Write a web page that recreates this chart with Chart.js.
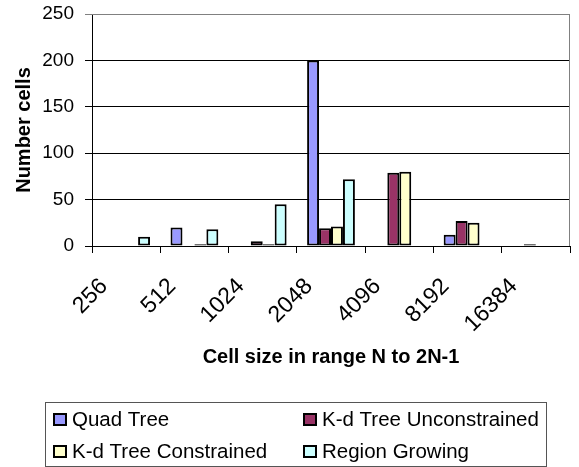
<!DOCTYPE html>
<html>
<head>
<meta charset="utf-8">
<script src="https://cdn.jsdelivr.net/npm/chart.js@4/dist/chart.umd.min.js"></script>
<style>
  body { margin: 0; background: #fff; }
  #wrap { width: 579px; height: 467px; position: relative; }
</style>
</head>
<body>
<div id="wrap"><canvas id="chart"></canvas></div>
<script>
const categories = ['256', '512', '1024', '2048', '4096', '8192', '16384'];
const quadTree = [0, 20, 0, 200, 0, 12, 0];
const kdUnconstrained = [0, 0, 5, 19, 79, 27, 2];
const kdConstrained = [0, 2, 2, 21, 80, 25, 0];
const regionGrowing = [10, 18, 45, 72, 0, 0, 0];
const yMin = 0, yMax = 250, yStep = 50;

const FONT = '"Liberation Sans", Arial, sans-serif';

function series(label, data, color) {
    return {
        label: label,
        data: data,
        backgroundColor: color,
        borderColor: '#000',
        borderWidth: 2,
        borderSkipped: false,
        categoryPercentage: 0.7,
        barPercentage: 1
    };
}

// legend drawn as a boxed 2x2 grid like the original
const boxLegend = {
    id: 'boxLegend',
    afterDraw(chart) {
        const ctx = chart.ctx;
        ctx.save();
        ctx.strokeStyle = '#555';
        ctx.lineWidth = 1;
        ctx.strokeRect(45.5, 402.5, 501, 64);
        const spots = [[53, 413], [303, 413], [53, 445], [303, 445]];
        ctx.font = '20.5px ' + FONT;
        ctx.textBaseline = 'middle';
        ctx.textAlign = 'left';
        chart.data.datasets.forEach((ds, i) => {
            const [x, y] = spots[i];
            ctx.fillStyle = ds.backgroundColor;
            ctx.fillRect(x, y, 14, 13);
            ctx.strokeStyle = '#000';
            ctx.lineWidth = 2;
            ctx.strokeRect(x + 1, y + 1, 12, 11);
            ctx.fillStyle = '#000';
            ctx.fillText(ds.label, x + 19, y + 7);
        });
        ctx.restore();
    }
};

// gray frame on the top and right of the plot area
const plotFrame = {
    id: 'plotFrame',
    afterDatasetsDraw(chart) {
        const a = chart.chartArea, ctx = chart.ctx;
        ctx.save();
        ctx.strokeStyle = '#808080';
        ctx.lineWidth = 1;
        ctx.beginPath();
        ctx.moveTo(a.left, a.top + 0.5);
        ctx.lineTo(a.right - 0.5, a.top + 0.5);
        ctx.lineTo(a.right - 0.5, a.bottom);
        ctx.stroke();
        ctx.restore();
    }
};

new Chart(document.getElementById('chart'), {
    type: 'bar',
    data: {
        labels: categories,
        datasets: [
            series('Quad Tree', quadTree, '#9999FF'),
            series('K-d Tree Unconstrained', kdUnconstrained, '#993366'),
            series('K-d Tree Constrained', kdConstrained, '#FFFFCC'),
            series('Region Growing', regionGrowing, '#CCFFFF')
        ]
    },
    options: {
        responsive: true,
        maintainAspectRatio: false,
        animation: false,
        layout: { padding: { top: 14, right: 9, bottom: 72, left: 0 } },
        plugins: {
            legend: { display: false },
            tooltip: { enabled: false }
        },
        scales: {
            x: {
                grid: {
                    display: true,
                    drawOnChartArea: false,
                    offset: true,
                    color: '#000',
                    tickLength: 7
                },
                border: { color: '#000', width: 1 },
                ticks: {
                    color: '#000',
                    font: { family: FONT, size: 23 },
                    minRotation: 45,
                    maxRotation: 45,
                    autoSkip: false,
                    labelOffset: -22,
                    padding: 20
                },
                title: {
                    display: true,
                    text: 'Cell size in range N to 2N-1',
                    color: '#000',
                    font: { family: FONT, size: 20, weight: 'bold' },
                    padding: { top: 0, bottom: 26 }
                },
                afterFit(scale) { scale.height = 149; }
            },
            y: {
                min: yMin,
                max: yMax,
                ticks: {
                    stepSize: yStep,
                    color: '#000',
                    font: { family: FONT, size: 19 },
                    padding: 11
                },
                grid: {
                    color: ctx => ctx.tick && ctx.tick.value === yMax ? '#808080' : '#000',
                    tickLength: 7
                },
                border: { color: '#000', width: 1 },
                title: {
                    display: true,
                    text: 'Number cells',
                    color: '#000',
                    font: { family: FONT, size: 20, weight: 'bold' },
                    padding: { top: 12, bottom: 0 }
                },
                afterFit(scale) {
                    scale.width = 92;
                    scale.paddingTop = 0;
                    scale.paddingBottom = 0;
                }
            }
        }
    },
    plugins: [plotFrame, boxLegend]
});
</script>
</body>
</html>
